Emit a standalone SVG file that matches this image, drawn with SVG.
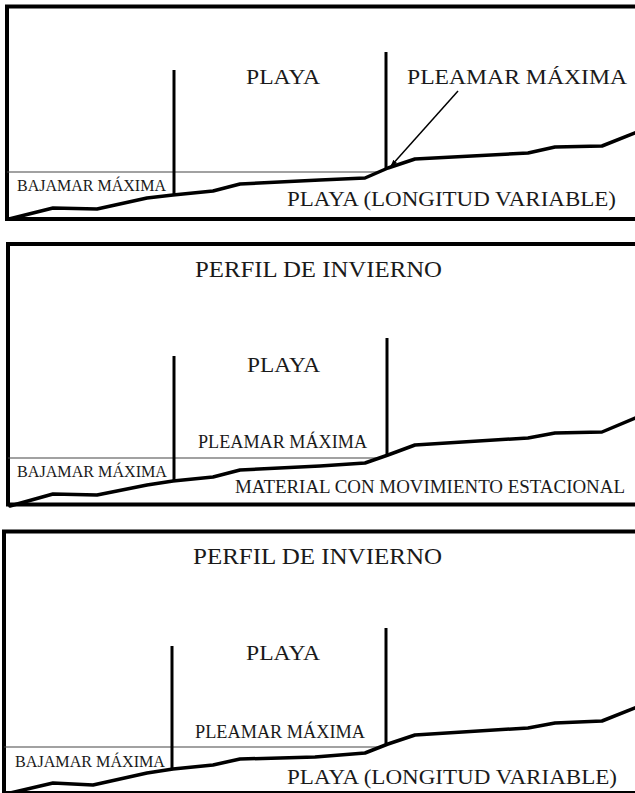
<svg xmlns="http://www.w3.org/2000/svg" width="635" height="793" viewBox="0 0 635 793">
<style>
.frame{fill:none;stroke:#000;stroke-width:4}
.thin{stroke:#444;stroke-width:1.2;fill:none}
.post{stroke:#000;stroke-width:3;fill:none}
.profile{stroke:#000;stroke-width:3.5;fill:none;stroke-linejoin:round;stroke-linecap:round}
.t{font-family:"Liberation Serif","Times New Roman",serif;fill:#1a1a1a}
.big{font-size:22px}
.mid{font-size:18px}
.sm{font-size:16px}
</style>
<defs>
<marker id="ah" viewBox="0 0 10 10" refX="9" refY="5" markerWidth="7" markerHeight="7" orient="auto" markerUnits="userSpaceOnUse">
<path d="M0,1.5 L10,5 L0,8.5 Z" fill="#000"/>
</marker>
</defs>
<rect width="635" height="793" fill="#fff"/>

<g id="panel1">
<rect class="frame" x="7" y="6.5" width="640" height="212.5"/>
<line class="thin" x1="7" y1="172" x2="378" y2="172"/>
<path class="profile" d="M9,219 L53,208 L97,209 L147,198 L173,195 L213,191 L240,184 L320,180 L365,178 L388,168 L415,159 L528,153 L555,147 L602,146 L640,131"/>
<line class="post" x1="174" y1="70" x2="174" y2="195"/>
<line class="post" x1="386" y1="52" x2="386" y2="168"/>
<text class="t big" x="246" y="84" textLength="74" lengthAdjust="spacingAndGlyphs">PLAYA</text>
<text class="t big" x="407" y="84" textLength="220" lengthAdjust="spacingAndGlyphs">PLEAMAR MÁXIMA</text>
<text class="t sm" x="17" y="191" textLength="149" lengthAdjust="spacingAndGlyphs">BAJAMAR MÁXIMA</text>
<text class="t big" x="287" y="206" textLength="329" lengthAdjust="spacingAndGlyphs">PLAYA (LONGITUD VARIABLE)</text>
</g>

<g id="connectors">
<line x1="458" y1="91" x2="391" y2="166" stroke="#000" stroke-width="1.5" marker-end="url(#ah)"/>
</g>

<g id="panel2">
<rect class="frame" x="8" y="244" width="640" height="260.5"/>
<line class="thin" x1="8" y1="458" x2="380" y2="458"/>
<path class="profile" d="M10,506 L53,494 L97,495 L147,485 L173,481 L213,477 L240,470 L320,466 L365,463 L388,455 L415,445 L528,438 L555,433 L602,432 L640,416"/>
<line class="post" x1="174" y1="356" x2="174" y2="481"/>
<line class="post" x1="387" y1="338" x2="387" y2="455"/>
<text class="t big" x="195" y="277" textLength="247" lengthAdjust="spacingAndGlyphs" style="font-size:23px">PERFIL DE INVIERNO</text>
<text class="t big" x="247" y="372" textLength="73" lengthAdjust="spacingAndGlyphs">PLAYA</text>
<text class="t mid" x="198" y="448" textLength="169" lengthAdjust="spacingAndGlyphs">PLEAMAR MÁXIMA</text>
<text class="t sm" x="17" y="477" textLength="150" lengthAdjust="spacingAndGlyphs">BAJAMAR MÁXIMA</text>
<text class="t mid" x="235" y="493" textLength="390" lengthAdjust="spacingAndGlyphs" style="font-size:18.5px">MATERIAL CON MOVIMIENTO ESTACIONAL</text>
</g>

<g id="panel3">
<rect class="frame" x="4" y="531.5" width="640" height="261.5"/>
<line class="thin" x1="4" y1="747" x2="382" y2="747"/>
<path class="profile" d="M6,794 L53,783 L93,785 L147,773 L173,769 L213,765 L240,759 L315,757 L365,753 L388,744 L415,735 L528,728 L555,723 L602,721 L640,706"/>
<line class="post" x1="172" y1="646" x2="172" y2="770"/>
<line class="post" x1="386" y1="628" x2="386" y2="744"/>
<text class="t big" x="193" y="564" textLength="249" lengthAdjust="spacingAndGlyphs" style="font-size:23px">PERFIL DE INVIERNO</text>
<text class="t big" x="246" y="660" textLength="74" lengthAdjust="spacingAndGlyphs">PLAYA</text>
<text class="t mid" x="195" y="738" textLength="170" lengthAdjust="spacingAndGlyphs">PLEAMAR MÁXIMA</text>
<text class="t sm" x="15" y="767" textLength="150" lengthAdjust="spacingAndGlyphs">BAJAMAR MÁXIMA</text>
<text class="t big" x="287" y="784" textLength="330" lengthAdjust="spacingAndGlyphs">PLAYA (LONGITUD VARIABLE)</text>
</g>
</svg>
